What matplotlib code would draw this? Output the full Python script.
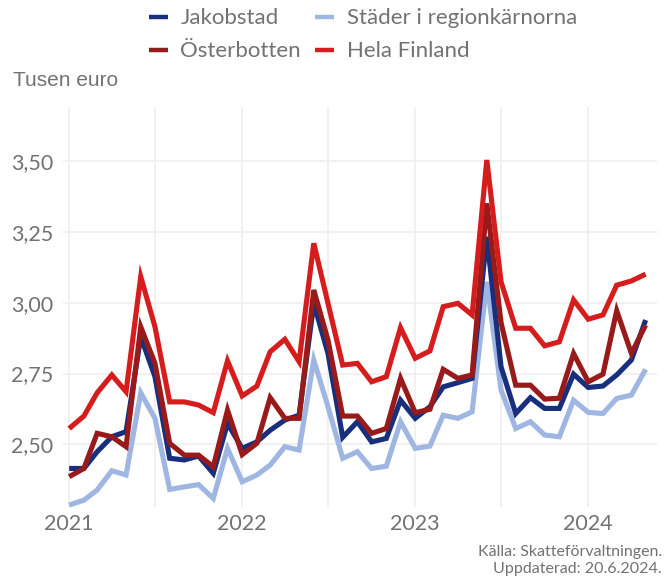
import numpy as np
import pandas as pd
import matplotlib
matplotlib.use("Agg")
import matplotlib.pyplot as plt
import matplotlib.dates as mdates


months = pd.date_range("2021-01-01", "2024-05-01", freq="MS")

jakobstad = [2.415, 2.415, 2.474, 2.527, 2.545, 2.880, 2.739, 2.451, 2.445, 2.459,
             2.398, 2.574, 2.486, 2.509, 2.550, 2.586, 2.603, 2.998, 2.821, 2.525,
             2.580, 2.509, 2.521, 2.656, 2.592, 2.633, 2.703, 2.718, 2.733, 3.233,
             2.774, 2.609, 2.665, 2.627, 2.627, 2.748, 2.701, 2.706, 2.745, 2.798,
             2.939]
stader = [2.286, 2.303, 2.339, 2.407, 2.392, 2.682, 2.592, 2.341, 2.350, 2.358,
          2.309, 2.486, 2.368, 2.392, 2.427, 2.492, 2.480, 2.798, 2.633, 2.451,
          2.474, 2.415, 2.423, 2.580, 2.486, 2.494, 2.603, 2.592, 2.615, 3.074,
          2.692, 2.556, 2.580, 2.533, 2.527, 2.656, 2.613, 2.609, 2.662, 2.674,
          2.765]
osterbotten = [2.386, 2.415, 2.539, 2.527, 2.492, 2.915, 2.786, 2.504, 2.462, 2.462,
               2.421, 2.621, 2.464, 2.504, 2.665, 2.592, 2.592, 3.045, 2.868, 2.600,
               2.600, 2.539, 2.556, 2.733, 2.612, 2.624, 2.765, 2.733, 2.745, 3.351,
               2.930, 2.709, 2.709, 2.660, 2.663, 2.821, 2.721, 2.748, 2.972, 2.821,
               2.921]
hela_finland = [2.556, 2.600, 2.682, 2.745, 2.686, 3.092, 2.915, 2.650, 2.650, 2.639,
                2.612, 2.795, 2.671, 2.706, 2.827, 2.871, 2.792, 3.210, 2.998, 2.780,
                2.786, 2.721, 2.739, 2.912, 2.804, 2.830, 2.986, 2.998, 2.957, 3.504,
                3.074, 2.910, 2.910, 2.848, 2.862, 3.010, 2.942, 2.957, 3.062, 3.077,
                3.101]

series = [
    ("Städer i regionkärnorna", stader, "#9fb6e3"),
    ("Jakobstad", jakobstad, "#172f7d"),
    ("Österbotten", osterbotten, "#981a1a"),
    ("Hela Finland", hela_finland, "#d51d1d"),
]
# legend fills column by column: row 1 Jakobstad / Städer, row 2 Österbotten / Hela Finland
legend_order = ["Jakobstad", "Österbotten", "Städer i regionkärnorna", "Hela Finland"]

yticks = [2.50, 2.75, 3.00, 3.25, 3.50]
txt = "#727272"

plt.rcParams["font.family"] = ["Lato", "DejaVu Sans"]

fig = plt.figure(figsize=(6.66, 5.78), dpi=100)
ax = fig.add_axes([63 / 666, 1 - 507 / 578, (657 - 63) / 666, (507 - 107) / 578])

lines = {}
for name, vals, col in series:
    ln, = ax.plot(months, vals, color=col, lw=3.7, solid_joinstyle="miter",
                  solid_capstyle="butt", label=name)
    lines[name] = ln

ax.set_xlim(pd.Timestamp("2020-12-19"), pd.Timestamp("2024-05-25"))
ax.set_ylim(2.279, 3.691)

ax.xaxis.set_major_locator(mdates.YearLocator())
ax.xaxis.set_major_formatter(mdates.DateFormatter("%Y"))
ax.xaxis.set_minor_locator(mdates.MonthLocator(bymonth=7))
ax.set_yticks(yticks)
ax.set_yticklabels([f"{v:.2f}".replace(".", ",") for v in yticks])

ax.grid(True, which="both", color="#f0f0f0", lw=1.3)
ax.set_axisbelow(True)
for s in ax.spines.values():
    s.set_visible(False)
ax.tick_params(which="both", length=0, colors=txt, labelsize=15.5)
ax.tick_params(axis="x", pad=5)
ax.tick_params(axis="y", pad=7)

fig.text(13 / 666, 1 - 81 / 578, "Tusen euro", color=txt, fontsize=15,
         family=["Liberation Sans", "DejaVu Sans"], va="center")

leg = fig.legend([lines[n] for n in legend_order], legend_order, loc="upper center",
                 bbox_to_anchor=(0.545, 1.02), ncol=2, frameon=False, fontsize=16,
                 handlelength=0.86, handletextpad=0.55, columnspacing=0.65,
                 labelspacing=0.58, labelcolor=txt)
for h in leg.legend_handles:
    h.set_linewidth(3.2)

fig.text(662 / 666, 1 - 552 / 578, "Källa: Skatteförvaltningen.", color=txt,
         fontsize=11.5, ha="right", va="center")
fig.text(662 / 666, 1 - 569 / 578, "Uppdaterad: 20.6.2024.", color=txt,
         fontsize=11.5, ha="right", va="center")

fig.savefig("out.png", dpi=100)
